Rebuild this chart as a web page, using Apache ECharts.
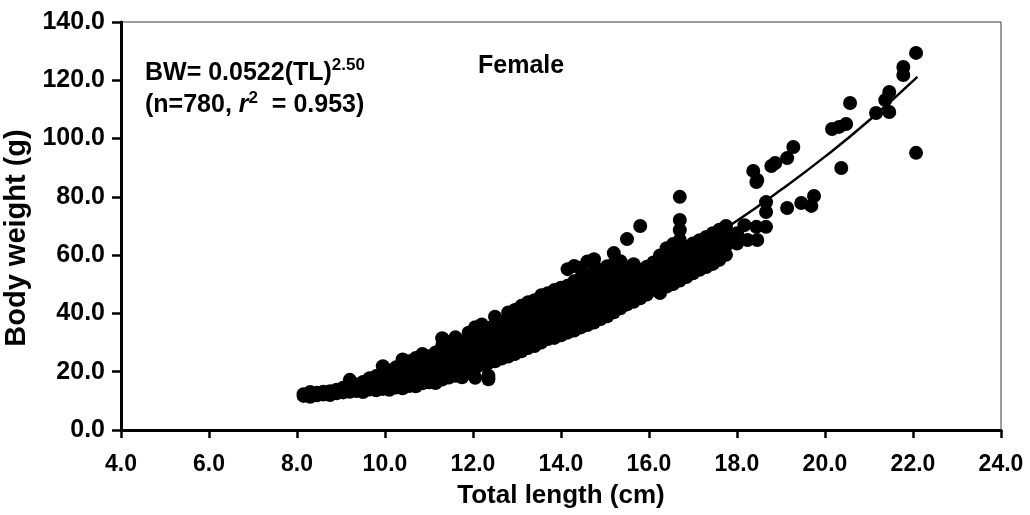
<!DOCTYPE html>
<html>
<head>
<meta charset="utf-8">
<script src="https://cdn.jsdelivr.net/npm/echarts@6/dist/echarts.min.js"></script>
<style>
html,body{margin:0;padding:0;background:#fff;}
#chart{width:1030px;height:515px;}
</style>
</head>
<body>
<div id="chart"></div>
<script>
// Axis ranges (ticks every 2.0 cm and 20.0 g)
const xRange = {min: 4, max: 24, step: 2};
const yRange = {min: 0, max: 140, step: 20};

// Main cloud of observations: [total length (cm), [body weights (g)]]
const cloudColumns = [
  [8.15, [11.7, 12.3]],
  [8.30, [11.4, 12.6, 13.0]],
  [8.45, [11.9, 12.8]],
  [8.60, [12.2, 13.1]],
  [8.75, [12.0, 13.3]],
  [8.90, [12.6, 13.8]],
  [9.05, [12.9, 14.5]],
  [9.20, [13.1, 14.9, 17.2]],
  [9.35, [13.4, 15.6]],
  [9.50, [13.0, 14.8, 16.5]],
  [9.65, [13.9, 15.9, 17.8]],
  [9.80, [13.6, 15.2, 17.0, 18.5]],
  [9.95, [14.1, 16.3, 18.8, 21.9]],
  [10.10, [13.8, 15.9, 18.1, 20.4]],
  [10.25, [14.6, 16.9, 19.3, 21.5]],
  [10.40, [14.3, 17.5, 20.0, 22.8, 24.2]],
  [10.55, [15.1, 17.9, 20.9, 23.6]],
  [10.70, [15.0, 17.2, 19.6, 22.1, 24.7]],
  [10.85, [16.0, 18.8, 21.4, 24.0, 26.1]],
  [11.00, [16.4, 19.1, 22.5, 25.3]],
  [11.15, [16.1, 18.4, 20.7, 23.4, 26.6]],
  [11.30, [17.3, 20.2, 22.9, 25.8, 28.9, 31.5]],
  [11.45, [18.0, 21.0, 24.1, 27.3, 30.2]],
  [11.60, [18.6, 20.5, 23.3, 26.4, 29.0, 31.8]],
  [11.75, [18.1, 21.8, 24.6, 27.7, 30.5]],
  [11.90, [20.3, 22.9, 25.4, 28.6, 31.2, 33.4]],
  [12.05, [17.9, 21.2, 24.0, 26.9, 29.8, 32.7, 35.3]],
  [12.20, [22.4, 25.1, 28.3, 31.0, 34.1, 36.2]],
  [12.35, [17.4, 18.6, 23.0, 26.2, 29.4, 32.5, 35.0]],
  [12.50, [23.6, 26.8, 30.1, 33.2, 36.4, 38.9]],
  [12.65, [24.5, 27.4, 30.8, 33.9, 36.8]],
  [12.80, [25.2, 28.5, 31.6, 34.7, 37.9, 40.3]],
  [12.95, [26.1, 29.3, 32.0, 35.6, 38.4, 41.2]],
  [13.10, [27.0, 30.2, 33.5, 36.7, 39.8, 42.6]],
  [13.25, [28.1, 31.0, 34.4, 37.2, 40.5, 43.8]],
  [13.40, [28.8, 32.1, 35.3, 38.6, 41.6, 44.5]],
  [13.55, [30.0, 33.2, 36.1, 39.4, 42.8, 46.2]],
  [13.70, [31.2, 34.0, 37.5, 40.6, 43.7, 46.9]],
  [13.85, [31.6, 34.8, 38.1, 41.5, 44.8, 48.0]],
  [14.00, [32.5, 35.9, 39.0, 42.4, 45.5, 48.8]],
  [14.15, [33.4, 36.6, 40.1, 43.3, 46.4, 49.5, 55.2]],
  [14.30, [34.1, 37.4, 40.7, 44.2, 47.5, 51.0, 56.3]],
  [14.45, [35.2, 38.5, 41.9, 45.0, 48.6, 52.3, 55.7]],
  [14.60, [36.0, 39.3, 42.6, 46.1, 49.4, 53.0, 57.8]],
  [14.75, [36.9, 40.2, 43.8, 47.2, 50.5, 54.1, 58.6]],
  [14.90, [38.1, 41.5, 44.6, 48.0, 51.6, 55.0]],
  [15.05, [39.0, 42.3, 45.8, 49.1, 52.4, 56.2]],
  [15.20, [40.4, 43.5, 46.7, 50.3, 53.7, 57.1, 60.7]],
  [15.35, [41.8, 44.9, 48.0, 51.2, 54.6, 57.9]],
  [15.50, [43.1, 46.0, 49.3, 52.5, 55.8, 65.5]],
  [15.65, [44.0, 47.3, 50.4, 53.6, 56.9]],
  [15.80, [45.2, 48.4, 51.7, 54.9, 70.0]],
  [15.95, [46.5, 49.6, 52.8, 56.0]],
  [16.10, [48.1, 51.0, 54.2, 57.5]],
  [16.25, [47.0, 50.3, 53.5, 56.8, 59.9]],
  [16.40, [49.2, 52.6, 55.9, 59.0, 62.4]],
  [16.55, [50.1, 53.4, 56.7, 60.2, 63.8]],
  [16.70, [51.3, 54.9, 58.1, 61.5, 65.2, 68.6, 72.1, 80.0]],
  [16.85, [52.5, 56.0, 59.4, 62.7]],
  [17.00, [53.8, 57.2, 60.6, 64.0]],
  [17.15, [55.0, 58.5, 61.9, 65.1]],
  [17.30, [55.9, 59.3, 62.8, 66.2]],
  [17.45, [57.0, 60.4, 63.9, 67.5]],
  [17.60, [58.4, 61.6, 65.0, 68.7]],
  [17.75, [60.1, 63.2, 66.4, 70.0]],
  [18.00, [64.0, 67.5]]
];

// Larger fish, read point by point: [length, weight]
const largeFish = [
  [18.17, 70.3], [18.24, 65.2], [18.44, 69.7], [18.44, 85.1], [18.46, 65.2],
  [18.46, 85.8], [18.37, 88.9], [18.66, 69.7], [18.66, 74.8], [18.66, 78.2],
  [18.78, 90.6], [18.87, 91.6], [19.14, 76.2], [19.14, 93.3], [19.28, 97.1],
  [19.46, 77.9], [19.69, 76.9], [19.75, 80.3], [20.16, 103.3], [20.32, 104.0],
  [20.37, 89.9], [20.48, 105.0], [20.57, 112.2], [21.16, 108.8], [21.37, 113.2],
  [21.46, 109.1], [21.46, 116.0], [21.78, 121.8], [21.78, 124.6], [22.07, 95.1],
  [22.07, 129.4]
];

// Fitted curve BW = 0.0522(TL)^2.50
const fitLength = [8.2, 10.0, 12.0, 14.0, 16.0, 17.0, 18.0, 19.0, 20.0, 21.0, 22.1];
const fitWeight = [10.1, 16.5, 26.0, 38.3, 53.4, 62.2, 71.8, 82.4, 93.8, 106.2, 121.2];

const scatterData = [];
cloudColumns.forEach(([x, ys]) => ys.forEach(y => scatterData.push([x, y])));
largeFish.forEach(p => scatterData.push(p));
const lineData = fitLength.map((x, i) => [x, fitWeight[i]]);

const FONT = '"Liberation Sans", Arial, sans-serif';
const chart = echarts.init(document.getElementById('chart'), null, {renderer: 'canvas'});
chart.setOption({
  backgroundColor: '#ffffff',
  animation: false,
  grid: {left: 121, right: 29, top: 22, bottom: 85, outerBoundsMode: 'none', containLabel: false,
    show: true, borderColor: '#3a3a3a', borderWidth: 1, backgroundColor: 'transparent'},
  xAxis: {
    type: 'value', min: xRange.min, max: xRange.max, interval: xRange.step,
    name: 'Total length (cm)', nameLocation: 'middle', nameGap: 53,
    nameTextStyle: {fontFamily: FONT, fontWeight: 'bold', fontSize: 26, color: '#000'},
    axisLine: {show: true, onZero: false, lineStyle: {color: '#000', width: 3}},
    axisTick: {show: true, inside: false, length: 8, lineStyle: {color: '#000', width: 2.5}},
    axisLabel: {margin: 23, fontFamily: FONT, fontWeight: 'bold', fontSize: 23, color: '#000',
      formatter: v => v.toFixed(1)},
    splitLine: {show: false}
  },
  yAxis: {
    type: 'value', min: yRange.min, max: yRange.max, interval: yRange.step,
    name: 'Body weight (g)', nameLocation: 'middle', nameGap: 76,
    nameTextStyle: {fontFamily: FONT, fontWeight: 'bold', fontSize: 29, color: '#000', padding: [0, 24, 0, 0]},
    axisLine: {show: true, onZero: false, lineStyle: {color: '#000', width: 3}},
    axisTick: {show: true, inside: false, length: 9, lineStyle: {color: '#000', width: 2.5}},
    axisLabel: {margin: 16, fontFamily: FONT, fontWeight: 'bold', fontSize: 25, color: '#000',
      formatter: v => v.toFixed(1)},
    splitLine: {show: false}
  },
  series: [
    {
      type: 'scatter', data: scatterData, symbol: 'circle', symbolSize: 14,
      itemStyle: {color: '#000', opacity: 1, borderWidth: 0}, silent: true, z: 2
    },
    {
      type: 'line', data: lineData, smooth: true, showSymbol: false, symbol: 'none',
      lineStyle: {color: '#000', width: 2.5}, silent: true, z: 3
    }
  ],
  graphic: [
    {
      type: 'text', left: 145, top: 57,
      style: {
        rich: {
          a: {fontFamily: FONT, fontWeight: 'bold', fontSize: 25, fill: '#000'},
          sup: {fontFamily: FONT, fontWeight: 'bold', fontSize: 17, fill: '#000', padding: [0, 0, 16, 0]}
        },
        text: '{a|BW= 0.0522(TL)}{sup|2.50}'
      }
    },
    {
      type: 'text', left: 145, top: 90,
      style: {
        rich: {
          a: {fontFamily: FONT, fontWeight: 'bold', fontSize: 25, fill: '#000'},
          i: {fontFamily: FONT, fontWeight: 'bold', fontStyle: 'italic', fontSize: 25, fill: '#000'},
          sup: {fontFamily: FONT, fontWeight: 'bold', fontSize: 17, fill: '#000', padding: [0, 0, 14, 0]}
        },
        text: '{a|(n=780, }{i|r}{sup|2}{a|  = 0.953)}'
      }
    },
    {
      type: 'text', left: 478, top: 54,
      style: {text: 'Female', fontFamily: FONT, fontWeight: 'bold', fontSize: 25, fill: '#000'}
    }
  ]
});
</script>
</body>
</html>
